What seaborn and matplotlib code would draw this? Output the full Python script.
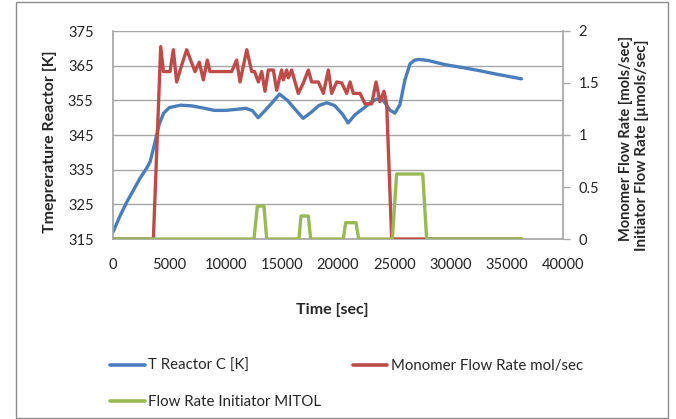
import matplotlib
matplotlib.use("Agg")
import matplotlib.pyplot as plt
import seaborn as sns
import pandas as pd
from matplotlib.patches import Rectangle
from matplotlib.lines import Line2D

# ---- data ----
temp_time = [0, 600, 1200, 1800, 2400, 3000, 3300, 3700, 4100, 4500, 5000, 6000, 7000,
             8000, 9000, 10000, 11000, 11800, 12400, 12900, 13500, 14200, 14800, 15500,
             16300, 16900, 17600, 18300, 19000, 19700, 20400, 20900, 21500, 22300, 23000,
             23500, 24000, 24600, 25050, 25500, 25950, 26400, 26800, 27200, 28000, 29500,
             31000, 32500, 34000, 35500, 36300]
temp_vals = [317, 321.5, 325.5, 329, 332.5, 335.5, 337.3, 342.5, 348, 351.3, 352.9, 353.6,
             353.4, 352.8, 352.1, 352.1, 352.4, 352.7, 352, 350, 352, 354.5, 356.8, 355,
             352, 349.8, 351.5, 353.5, 354.3, 353.5, 351, 348.5, 350.8, 352.8, 354.6,
             355.4, 355.1, 352.2, 351.3, 353.7, 360.9, 365.5, 366.6, 366.8, 366.5, 365.3,
             364.5, 363.6, 362.6, 361.7, 361.2]

mono_time = [0, 3590, 4240, 4480, 5070, 5360, 5660, 6100, 6550, 7290, 7670, 8030, 8380,
             8620, 10550, 10990, 11290, 11890, 12330, 12580, 12920, 13220, 13510, 13810,
             14250, 14550, 14990, 15140, 15440, 15580, 15880, 16180, 16470, 16920, 17360,
             17660, 18250, 18700, 19140, 19440, 19880, 20330, 20770, 21070, 21360, 21960,
             22400, 23000, 23380, 23730, 24090, 24330, 24770, 36300]
mono_vals = [0, 0, 1.85, 1.61, 1.61, 1.82, 1.51, 1.67, 1.82, 1.61, 1.70, 1.53, 1.72,
             1.61, 1.61, 1.72, 1.51, 1.82, 1.61, 1.61, 1.51, 1.61, 1.42, 1.625,
             1.625, 1.43, 1.625, 1.53, 1.625, 1.55, 1.625, 1.51, 1.40, 1.50, 1.625,
             1.51, 1.51, 1.40, 1.625, 1.40, 1.51, 1.50, 1.40, 1.51, 1.40, 1.40,
             1.30, 1.30, 1.51, 1.32, 1.42, 1.29, 0, 0]

init_time = [0, 12530, 12830, 13420, 13660, 16530, 16710, 17360, 17570, 20470, 20680,
             21600, 21840, 24830, 25210, 27530, 27880, 36330]
init_vals = [0, 0, 0.317, 0.317, 0, 0, 0.221, 0.221, 0, 0, 0.157, 0.157, 0, 0, 0.625,
             0.625, 0, 0]

x_ticks = [0, 5000, 10000, 15000, 20000, 25000, 30000, 35000, 40000]
left_ticks = [315, 325, 335, 345, 355, 365, 375]
right_ticks = [0, 0.5, 1, 1.5, 2]

labels = ["T Reactor C [K]", "Monomer Flow Rate mol/sec", "Flow Rate Initiator MITOL"]
colors = ["#4a7ebb", "#be4b48", "#98b954"]

sns.set_theme(style="white")
plt.rcParams['font.family'] = ['Lato', 'DejaVu Sans']

fig = plt.figure(figsize=(6.76, 4.19), dpi=100)
ax = fig.add_axes([113/676, 1-239/419, 450/676, 208/419])
ax2 = ax.twinx()

df_t = pd.DataFrame({"t": temp_time, "v": temp_vals})
df_m = pd.DataFrame({"t": mono_time, "v": mono_vals})
df_i = pd.DataFrame({"t": init_time, "v": init_vals})

sns.lineplot(data=df_t, x="t", y="v", ax=ax, color=colors[0], lw=2.4, sort=False)
sns.lineplot(data=df_m, x="t", y="v", ax=ax2, color=colors[1], lw=2.4, sort=False)
sns.lineplot(data=df_i, x="t", y="v", ax=ax2, color=colors[2], lw=2.4, sort=False)

ax.set_xlim(0, 40000)
ax.set_ylim(315, 375)
ax2.set_ylim(0, 2)
ax.set_xticks(x_ticks)
ax.set_xticklabels([str(v) for v in x_ticks])
ax.set_yticks(left_ticks)
ax.set_yticklabels([str(v) for v in left_ticks])
ax2.set_yticks(right_ticks)
ax2.set_yticklabels([f"{v:g}" for v in right_ticks])

ax.grid(axis="y", color="#a6a6a6", lw=1)
ax.grid(axis="x", visible=False)
ax2.grid(False)

gray = "#a6a6a6"
for a in (ax, ax2):
    for s in a.spines.values():
        s.set_visible(False)
ax.spines["left"].set_visible(True)
ax.spines["left"].set_color(gray)
ax.spines["bottom"].set_visible(True)
ax.spines["bottom"].set_color(gray)
ax2.spines["right"].set_visible(True)
ax2.spines["right"].set_color(gray)

ax.tick_params(axis="y", length=0, pad=14, labelsize=10.5, colors="#222222")
ax.tick_params(axis="x", length=0, pad=14, labelsize=10.5, colors="#222222")
ax2.tick_params(axis="y", length=5, width=1, color=gray, pad=6, labelsize=10.5,
                colors="#222222", right=True)
ax2.tick_params(axis="y", color=gray)

ax.set_xlabel("")
ax.set_ylabel("")
ax2.set_ylabel("")
fig.text(332/676, 1-310/419, "Time [sec]", ha="center", va="center",
         fontsize=11.5, fontweight="bold")
fig.text(50/676, 1-142/419, "Tmeprerature Reactor [K]", rotation=90,
         ha="center", va="center", fontsize=11.5, fontweight="bold")
fig.text(626/676, 1-138/419, "Monomer Flow Rate [mols/sec]", rotation=90,
         ha="center", va="center", fontsize=10.5, fontweight="bold")
fig.text(642/676, 1-145/419, "Initiator Flow Rate [\u00b5mols/sec]", rotation=90,
         ha="center", va="center", fontsize=11, fontweight="bold")

handles = [Line2D([], [], color=c, lw=2.6) for c in colors]
order = [0, 2, 1]
fig.legend(handles=[handles[i] for i in order], labels=[labels[i] for i in order],
           ncol=2, loc="upper left",
           bbox_to_anchor=(110/676, 1-359/419), frameon=False, fontsize=10.8,
           handlelength=2.3, handletextpad=0.25, columnspacing=2.1,
           labelspacing=1.45, borderpad=0, borderaxespad=0)

fig.patches.append(Rectangle((16/676, 0.002), 652/676, 0.994, transform=fig.transFigure,
                             fill=False, edgecolor="#8c8c8c", lw=1))

fig.savefig("out.png", dpi=100)
